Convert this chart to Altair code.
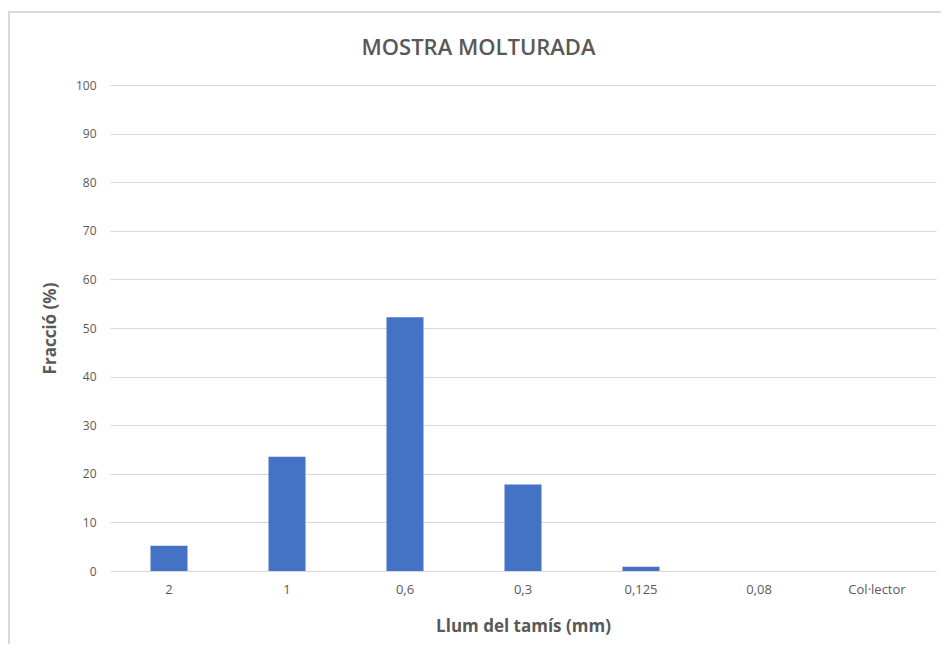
import altair as alt
import pandas as pd

categories = ["2", "1", "0,6", "0,3", "0,125", "0,08", "Col·lector"]
values = [5.2, 23.5, 52.2, 17.8, 0.9, 0.0, 0.0]

df = pd.DataFrame({"cat": categories, "val": values})

FONT = "Open Sans"
GRAY = "#595959"

bars = alt.Chart(df).mark_bar(color="#4472C4", size=37).encode(
    x=alt.X("cat:N", sort=categories,
            scale=alt.Scale(paddingInner=0, paddingOuter=0),
            axis=alt.Axis(title="Llum del tamís (mm)", labelAngle=0, ticks=False,
                          domainColor="#d9d9d9", labelPadding=12,
                          labelFontSize=13, labelColor=GRAY, labelFont=FONT,
                          titleFont=FONT, titleFontSize=17, titleColor=GRAY,
                          titleFontWeight="bold", titlePadding=22)),
    y=alt.Y("val:Q", scale=alt.Scale(domain=[0, 100]),
            axis=alt.Axis(title="Fracció (%)", values=list(range(0, 101, 10)),
                          ticks=False, domain=False, gridColor="#d9d9d9",
                          labelPadding=14, labelFontSize=12, labelColor=GRAY,
                          labelFont=FONT, titleFont=FONT, titleFontSize=17,
                          titleColor=GRAY, titleFontWeight="bold",
                          titlePadding=16)),
)

border = alt.Chart(df).mark_rect(fill=None, stroke="#d9d9d9", strokeWidth=1.5).encode(
    x=alt.value(-101), x2=alt.value(838), y=alt.value(-73), y2=alt.value(575)
)

chart = alt.layer(border, bars).properties(
    width=826, height=486,
    title=alt.TitleParams("MOSTRA MOLTURADA", font=FONT, fontSize=22,
                          fontWeight=600, color=GRAY, anchor="middle",
                          frame="bounds", offset=-49),
    autosize=alt.AutoSizeParams(type="none"),
    padding={"left": 102, "top": 77, "right": 5, "bottom": 73},
).configure_view(stroke=None)

chart.save("out.html", embed_options={"renderer": "svg", "actions": False})
